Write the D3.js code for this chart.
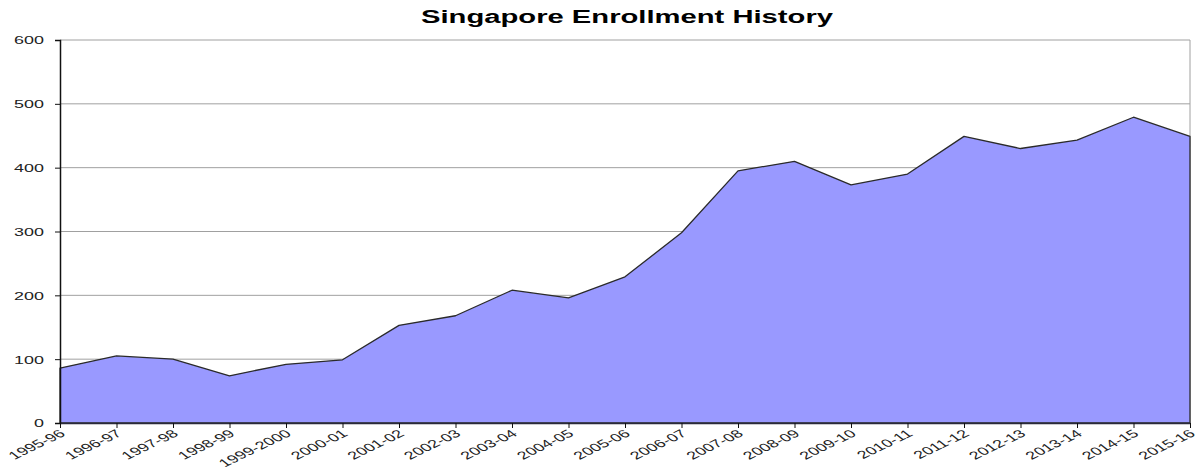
<!DOCTYPE html>
<html><head><meta charset="utf-8">
<script src="https://cdn.jsdelivr.net/npm/d3@7"></script>
<style>body{margin:0;background:#fff}svg{display:block}</style>
</head><body>
<script>
const categories = ["1995-96","1996-97","1997-98","1998-99","1999-2000","2000-01","2001-02","2002-03","2003-04","2004-05","2005-06","2006-07","2007-08","2008-09","2009-10","2010-11","2011-12","2012-13","2013-14","2014-15","2015-16"];
const enrollment = [86,105,100,74,92,99,153,168,208,196,229,298,395,410,373,390,449,430,443,479,449];
const yTicks = [0,100,200,300,400,500,600];
const title = "Singapore Enrollment History";

const W = 1201, H = 468;
const svg = d3.select("body").append("svg").attr("width", W).attr("height", H);
const L = 60, R = 1190, T = 40, B = 423;
const x = d3.scalePoint().domain(categories).range([L, R]).padding(0);
const y = d3.scaleLinear().domain([0, 600]).range([B, T]);
const font = "'Liberation Sans', Arial, sans-serif";
const SX = 1.63;

// gridlines
svg.append("g").selectAll("line").data(yTicks.filter(d => d > 0)).join("line")
  .attr("x1", L).attr("x2", R).attr("y1", d => y(d)).attr("y2", d => y(d))
  .attr("stroke", "#a0a0a0").attr("stroke-width", 1);
// right border
svg.append("line").attr("x1", R).attr("x2", R).attr("y1", T).attr("y2", B)
  .attr("stroke", "#a0a0a0");

// area
const data = categories.map((c, i) => ({c, v: enrollment[i]}));
const area = d3.area().x(d => x(d.c)).y0(y(0)).y1(d => y(d.v));
svg.append("path").datum(data).attr("d", area)
  .attr("fill", "#9999ff").attr("stroke", "#2a2a2a").attr("stroke-width", 1.3)
  .attr("stroke-linejoin", "round");

// y axis
const ya = svg.append("g").attr("transform", `translate(${L},0)`)
  .call(d3.axisLeft(y).tickValues(yTicks).tickSize(5).tickPadding(0).tickFormat(d3.format("d")));
ya.select(".domain").attr("stroke", "#111").attr("stroke-width", 1.5);
ya.selectAll(".tick line").attr("stroke", "#111");
ya.selectAll(".tick text").remove();
ya.selectAll(".tick").append("text")
  .attr("transform", `translate(-16,0) scale(${SX},1)`)
  .attr("text-anchor", "end").attr("dy", "0.35em")
  .attr("font-family", font).attr("font-size", 11).attr("fill", "#222")
  .text(d => d);

// x axis
const xa = svg.append("g").attr("transform", `translate(0,${B})`)
  .call(d3.axisBottom(x).tickSize(5).tickSizeOuter(0));
xa.select(".domain").attr("stroke", "#2a2a3a").attr("stroke-width", 1.5);
xa.selectAll(".tick line").attr("stroke", "#111");
xa.selectAll(".tick text").remove();
xa.selectAll(".tick").append("text")
  .attr("transform", `translate(2,9) scale(${SX},1) rotate(-38)`)
  .attr("text-anchor", "end").attr("dy", "0.35em")
  .attr("font-family", font).attr("font-size", 11).attr("fill", "#222")
  .text(d => d);

// title
svg.append("text").attr("x", 627).attr("y", 23).attr("text-anchor", "middle")
  .attr("font-family", font).attr("font-weight", "bold").attr("font-size", 18)
  .attr("textLength", 412).attr("lengthAdjust", "spacingAndGlyphs")
  .attr("fill", "#000").text(title);
</script>
</body></html>
